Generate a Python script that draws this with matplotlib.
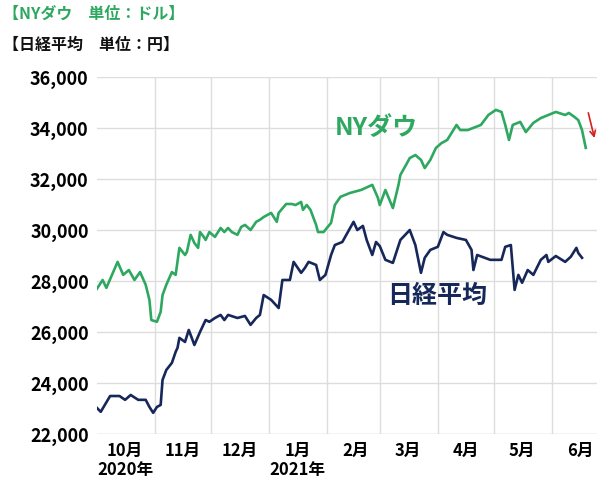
import matplotlib.pyplot as plt

plt.rcParams['font.family'] = ['Noto Sans CJK JP', 'DejaVu Sans']

# days since 2020-10-01
dow_days = [0, 3, 5, 11, 14, 17, 20, 23, 26, 28, 29, 32, 34, 35, 37, 40, 42, 44, 47, 48, 50, 52, 54, 55, 57, 58,
            60, 63, 66, 68, 70, 72, 75, 77, 79, 82, 85, 87, 89, 93, 96, 97, 101, 104, 106, 109, 110, 112, 114, 117,
            118, 121, 125, 127, 130, 135, 141, 147, 150, 151, 154, 158, 161, 162, 165, 167, 170, 173, 175, 178, 181,
            184, 187, 192, 194, 198, 205, 209, 213, 216, 218, 220, 222, 226, 229, 233, 237, 241, 245, 250, 252, 255,
            257, 259, 261]
dow = [27700, 28040, 27730, 28750, 28240, 28430, 28040, 28350, 27850, 27260, 26470, 26400, 26790, 27450, 27850,
       28350, 28240, 29300, 29020, 29140, 29810, 29490, 29300, 29920, 29730, 29610, 29920, 29730, 30080, 29920,
       30080, 29920, 29810, 30120, 30200, 30000, 30320, 30400, 30510, 30670, 30320, 30670, 31020, 31020, 30980,
       31100, 30790, 30980, 30790, 30200, 29920, 29920, 30280, 30980, 31300, 31450, 31570, 31770, 31260, 30980,
       31570, 30860, 31770, 32160, 32550, 32820, 32940, 32750, 32430, 32750, 33220, 33410, 33530, 34120, 33920,
       33920, 34120, 34510, 34710, 34630, 34120, 33530, 34120, 34240, 33840, 34200, 34390, 34510, 34630, 34510,
       34590, 34430, 34310, 33920, 33220]

nk_days = [0, 2, 7, 12, 15, 18, 22, 26, 28, 30, 32, 34, 35, 37, 40, 42, 43, 44, 47, 49, 51, 52, 55, 58, 60, 63,
           66, 68, 70, 75, 79, 82, 85, 87, 89, 93, 97, 99, 103, 105, 109, 111, 113, 117, 119, 122, 125, 127, 131,
           137, 139, 142, 144, 147, 149, 151, 154, 158, 162, 166, 167, 170, 173, 175, 178, 182, 185, 187, 192, 197,
           200, 201, 203, 210, 216, 218, 221, 223, 225, 227, 230, 233, 237, 240, 241, 245, 250, 253, 256, 257, 259]
nikkei = [23020, 22870, 23490, 23490, 23340, 23530, 23340, 23340, 23060, 22830, 23060, 23140, 24120, 24510, 24790,
          25220, 25380, 25770, 25610, 26080, 25690, 25490, 26000, 26470, 26400, 26550, 26670, 26470, 26670, 26550,
          26630, 26280, 26550, 26670, 27450, 27260, 26940, 28040, 28040, 28750, 28320, 28510, 28750, 28630, 28040,
          28240, 29020, 29410, 29530, 30320, 30000, 30160, 29610, 29020, 29530, 29370, 28830, 28710, 29610, 29920,
          30000, 29410, 28320, 28910, 29220, 29340, 29920, 29810, 29690, 29610, 29220, 28430, 29020, 28830, 28830,
          29340, 29410, 27650, 28240, 27930, 28430, 28240, 28830, 29020, 28750, 28980, 28750, 28950, 29300, 29100,
          28910]

month_starts = [0, 31, 61, 92, 123, 151, 182, 212, 243]
month_labels = ['10月\n2020年', '11月', '12月', '1月\n2021年', '2月', '3月', '4月', '5月', '6月']
yticks = [22000, 24000, 26000, 28000, 30000, 32000, 34000, 36000]

green = '#2ea860'
navy = '#16275a'

fig = plt.figure(figsize=(6, 4.92), dpi=100)
ax = fig.add_axes([97 / 600, 1 - 434 / 492, 500 / 600, 357 / 492])
ax.plot(dow_days, dow, color=green, lw=1.9)
ax.plot(nk_days, nikkei, color=navy, lw=1.9)
ax.set_xlim(0, 267)
ax.set_ylim(22000, 36000)
ax.set_yticks(yticks)
ax.set_yticklabels([f'{v:,}' for v in yticks], fontsize=13, fontweight='bold')
ax.set_xticks(month_starts[1:])
ax.set_xticklabels([])
for d, lab in zip(month_starts, month_labels):
    ax.text(d + 15, 21700, lab, ha='center', va='top', fontsize=12, fontweight='bold', linespacing=1.1)
ax.grid(True, color='#dddddd', lw=1)
ax.tick_params(length=0, pad=6)
for s in ax.spines.values():
    s.set_visible(False)
ax.axhline(22000, color='#dddddd', lw=1)

ax.text(127, 34000, 'NYダウ', color=green, fontsize=18, fontweight='bold', va='center')
ax.text(155, 27400, '日経平均', color=navy, fontsize=18, fontweight='bold', va='center')
ax.annotate('', xy=(266, 33500), xytext=(262, 34700),
            arrowprops=dict(arrowstyle='->', color='#d62020', lw=1.2))

fig.text(3 / 600, 1 - 14 / 492, '【NYダウ　単位：ドル】', color=green, fontsize=11.5, fontweight='bold', va='center')
fig.text(3 / 600, 1 - 45 / 492, '【日経平均　単位：円】', color='#111111', fontsize=11.5, fontweight='bold', va='center')

fig.savefig('out.png', dpi=100)
